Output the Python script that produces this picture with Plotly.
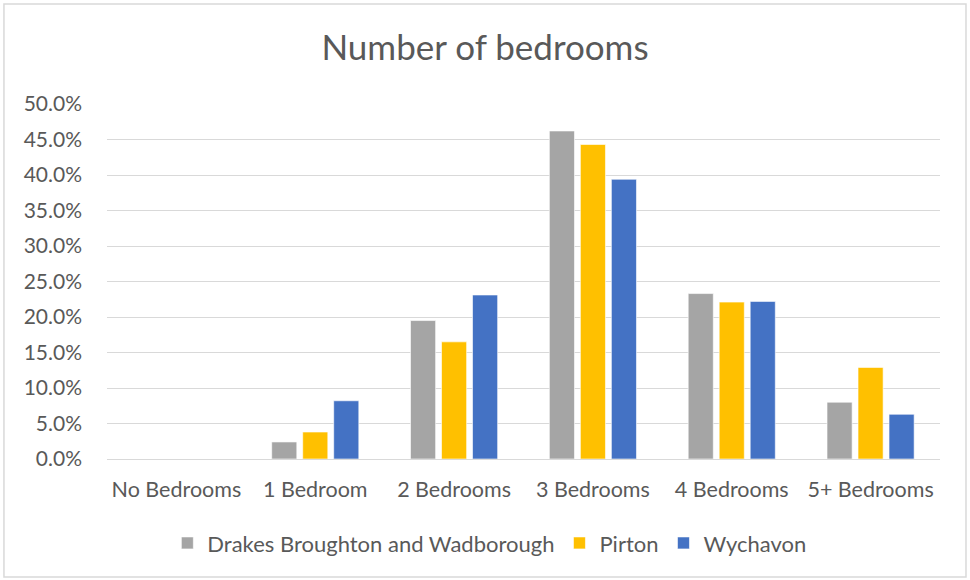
import plotly.graph_objects as go

categories = ["No Bedrooms", "1 Bedroom", "2 Bedrooms", "3 Bedrooms", "4 Bedrooms", "5+ Bedrooms"]
drakes = [0.0, 2.4, 19.5, 46.2, 23.3, 8.0]
pirton = [0.0, 3.8, 16.5, 44.3, 22.1, 12.9]
wychavon = [0.0, 8.2, 23.1, 39.4, 22.2, 6.3]
y_ticks = [0, 5, 10, 15, 20, 25, 30, 35, 40, 45, 50]
y_tick_labels = [f"{v:.1f}%" for v in y_ticks]

series = [
    ("Drakes Broughton and Wadborough", drakes, "#A5A5A5"),
    ("Pirton", pirton, "#FFC000"),
    ("Wychavon", wychavon, "#4472C4"),
]

FONT = "Lato, 'Open Sans', sans-serif"
TXT = "#595959"

fig = go.Figure()
for name, vals, col in series:
    fig.add_trace(go.Bar(
        x=categories, y=vals, name=name,
        marker=dict(color=col, line=dict(color="rgba(255,255,255,0.6)", width=1)),
    ))

fig.update_layout(
    width=970, height=580,
    paper_bgcolor="white", plot_bgcolor="white",
    margin=dict(l=107, r=30, t=104, b=121),
    barmode="group", bargap=0.33, bargroupgap=0.19,
    title=dict(text="Number of bedrooms", x=0.5, xanchor="center", y=0.917, yanchor="middle",
               font=dict(family=FONT, size=35, color=TXT)),
    font=dict(family=FONT, size=20, color=TXT),
    showlegend=True,
    legend=dict(orientation="h", x=0.459, xanchor="center", y=-0.237, yanchor="middle",
                font=dict(family=FONT, size=22, color=TXT), itemwidth=30,
                traceorder="normal", bgcolor="rgba(0,0,0,0)"),
    xaxis=dict(showgrid=False, showline=True, linecolor="#D9D9D9", linewidth=1,
               ticks="", tickfont=dict(family=FONT, size=21.5, color=TXT), ticklabelstandoff=11,
               fixedrange=True),
    yaxis=dict(range=[0, 50], tickvals=y_ticks, ticktext=y_tick_labels,
               showgrid=True, gridcolor="#D9D9D9", gridwidth=1, zeroline=False,
               showline=False, ticks="", tickfont=dict(family=FONT, size=21, color=TXT),
               ticklabelstandoff=24, fixedrange=True),
    shapes=[dict(type="rect", xref="paper", yref="paper",
                 x0=-0.1237, x1=1.0312, y0=-0.3324, y1=1.2817,
                 line=dict(color="#D9D9D9", width=1.5), fillcolor="rgba(0,0,0,0)", layer="below")],
)

fig.write_html("out.html", config={"displayModeBar": False},
               post_script="document.body.style.margin='0';")
